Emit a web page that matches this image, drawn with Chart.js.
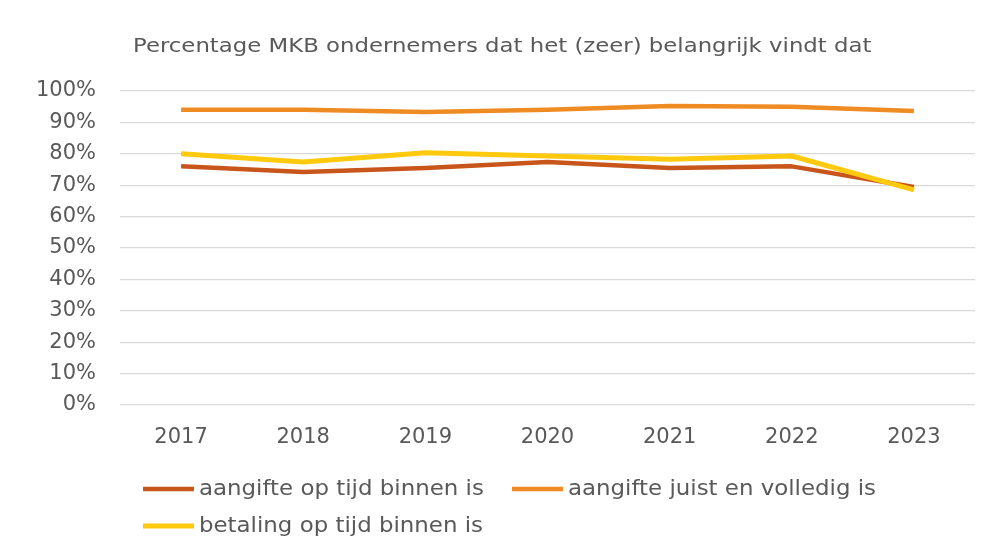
<!DOCTYPE html>
<html>
<head>
<meta charset="utf-8">
<script src="https://cdn.jsdelivr.net/npm/chart.js@4/dist/chart.umd.min.js"></script>
<style>
	html, body { margin: 0; padding: 0; background: #fff; }
	#wrap { width: 997px; height: 551px; }
</style>
</head>
<body>
<div id="wrap"><canvas id="chart" width="997" height="551"></canvas></div>
<script>
const years = ['2017', '2018', '2019', '2020', '2021', '2022', '2023'];
const seriesLabels = ['aangifte op tijd binnen is', 'aangifte juist en volledig is', 'betaling op tijd binnen is'];
const opTijd = [76, 74.2, 75.5, 77.4, 75.5, 76, 69.4];
const juistVolledig = [94, 94, 93.3, 94, 95.2, 95, 93.6];
const betaling = [80, 77.4, 80.3, 79.3, 78.3, 79.3, 68.5];
const lineColors = ['#c8561b', '#ee8b23', '#ffc90e'];
const subtitle = 'Percentage MKB ondernemers dat het (zeer) belangrijk vindt dat';

const FONT = 'DejaVu Sans';

// the original text looks stretched sideways, so draw it a bit wider
function wideText(ctx, str, x, y, stretch) {
	ctx.save();
	ctx.translate(x, y);
	ctx.scale(stretch, 1);
	ctx.fillText(str, 0, 0);
	ctx.restore();
}

// subtitle and legend, drawn at fixed spots like the original
const textPlugin = {
	id: 'texts',
	afterDraw(chart) {
		const ctx = chart.ctx;
		ctx.save();
		ctx.fillStyle = '#595959';
		ctx.font = '19px "' + FONT + '"';
		ctx.textBaseline = 'middle';
		ctx.textAlign = 'left';
		wideText(ctx, subtitle, 133, 47, 1.2);

		ctx.font = '21px "' + FONT + '"';
		const spots = [[143, 489], [512, 489], [143, 526]];
		chart.data.datasets.forEach((ds, i) => {
			const [x, y] = spots[i];
			ctx.strokeStyle = ds.borderColor;
			ctx.lineWidth = ds.borderWidth;
			ctx.beginPath();
			ctx.moveTo(x, y);
			ctx.lineTo(x + 51, y);
			ctx.stroke();
			ctx.fillStyle = '#595959';
			wideText(ctx, ds.label, x + 56, y + 1, 1.09);
		});
		ctx.restore();
	}
};

const data = {
	labels: years,
	datasets: [
		{ label: seriesLabels[0], data: opTijd, borderColor: lineColors[0], backgroundColor: lineColors[0], borderWidth: 4.5, order: 2 },
		{ label: seriesLabels[1], data: juistVolledig, borderColor: lineColors[1], backgroundColor: lineColors[1], borderWidth: 4.5, order: 1 },
		{ label: seriesLabels[2], data: betaling, borderColor: lineColors[2], backgroundColor: lineColors[2], borderWidth: 5, order: 0 }
	]
};

const config = {
	type: 'line',
	data: data,
	options: {
		responsive: false,
		animation: false,
		layout: { padding: { left: 0, right: 22, top: 91, bottom: 0 } },
		elements: {
			point: { radius: 0 },
			line: { tension: 0, borderCapStyle: 'butt', borderJoinStyle: 'round' }
		},
		plugins: {
			legend: { display: false },
			title: { display: false },
			tooltip: { enabled: false }
		},
		scales: {
			x: {
				offset: true,
				grid: { display: false },
				border: { display: false },
				ticks: { color: '#595959', font: { family: FONT, size: 21 }, padding: 12 },
				afterFit(axis) { axis.height = 146; }
			},
			y: {
				min: 0,
				max: 100,
				grid: { color: '#d9d9d9', lineWidth: 1.3, drawTicks: false },
				border: { display: false },
				ticks: {
					stepSize: 10,
					color: '#595959',
					font: { family: FONT, size: 21 },
					padding: 24,
					callback: (v) => v + '%'
				},
				afterFit(axis) { axis.width = 120; }
			}
		}
	},
	plugins: [textPlugin]
};

new Chart(document.getElementById('chart'), config);
</script>
</body>
</html>
